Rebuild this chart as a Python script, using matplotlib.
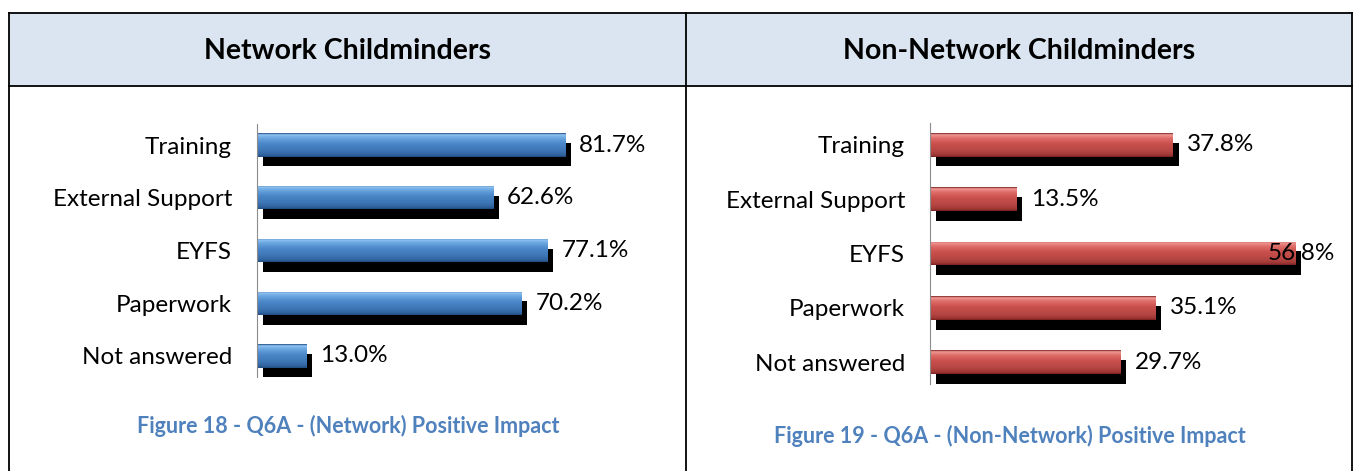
import numpy as np
import matplotlib.pyplot as plt
from matplotlib import patheffects as pe
from matplotlib.colors import LinearSegmentedColormap
from matplotlib.lines import Line2D
from matplotlib.patches import Rectangle

plt.rcParams['font.family'] = ['Lato', 'DejaVu Sans']

categories = ['Training', 'External Support', 'EYFS', 'Paperwork', 'Not answered']
network_pct = [81.7, 62.6, 77.1, 70.2, 13.0]
non_network_pct = [37.8, 13.5, 56.8, 35.1, 29.7]

titles = ['Network Childminders', 'Non-Network Childminders']
captions = ['Figure 18 - Q6A - (Network) Positive Impact',
            'Figure 19 - Q6A - (Non-Network) Positive Impact']

W, H = 1354, 471
fig = plt.figure(figsize=(W / 100, H / 100), dpi=100)


def fx(px):
    return px / W


def fy(py):
    return 1 - py / H


# table frame
fig.add_artist(Rectangle((fx(9), fy(86)), fx(1352 - 9), fy(13) - fy(86),
                         transform=fig.transFigure, facecolor='#dbe5f1',
                         edgecolor='none', zorder=0))
line_kw = dict(transform=fig.transFigure, color='black', lw=1.3)
fig.add_artist(Line2D([fx(9), fx(1352)], [fy(13), fy(13)], **line_kw))
fig.add_artist(Line2D([fx(9), fx(1352)], [fy(86), fy(86)], **line_kw))
for x in (9, 686, 1352):
    fig.add_artist(Line2D([fx(x), fx(x)], [fy(13), fy(471)], **line_kw))

fig.text(fx(348), fy(51), titles[0], ha='center', va='center',
         fontsize=20.5, fontweight='bold')
fig.text(fx(1019), fy(51), titles[1], ha='center', va='center',
         fontsize=20.5, fontweight='bold')
fig.text(fx(348), fy(426), captions[0], ha='center', va='center',
         fontsize=15.5, fontweight='bold', color='#4f81bd')
fig.text(fx(1010), fy(436), captions[1], ha='center', va='center',
         fontsize=15.5, fontweight='bold', color='#4f81bd')

grad = np.linspace(0, 1, 64).reshape(-1, 1)


def bar_panel(rect, values, xmax, shades):
    ax = fig.add_axes(rect)
    y = list(range(len(categories)))
    h = 0.44
    cmap = LinearSegmentedColormap.from_list('bevel', list(zip(
        [0, 0.06, 0.2, 0.45, 0.75, 0.93, 1], shades)))
    base = ax.barh(y, values, height=h, color=shades[-1], zorder=2)
    for b, yi, v in zip(base, y, values):
        b.set_path_effects([pe.SimplePatchShadow(offset=(4, -7), shadow_rgbFace='black',
                                                 alpha=1.0), pe.Normal()])
        im = ax.imshow(grad, extent=[0, v, yi + h / 2, yi - h / 2], cmap=cmap,
                       aspect='auto', interpolation='bilinear', zorder=3,
                       origin='upper')
        im.set_clip_path(b)
    for yi, v in zip(y, values):
        if v + xmax * 0.12 > xmax:
            ax.text(xmax, yi, f'{v:.1f}%', ha='right', va='center', fontsize=17.5,
                    zorder=6)
        else:
            ax.annotate(f'{v:.1f}%', (v, yi), xytext=(10, 0), textcoords='offset points',
                        ha='left', va='center', fontsize=17.5, zorder=6)
    ax.set_xlim(0, xmax)
    ax.set_ylim(len(categories) - 0.6, -0.4)
    ax.set_yticks(y)
    ax.set_yticklabels(categories, fontsize=17.5)
    ax.set_xticks([])
    ax.tick_params(axis='y', length=0, pad=18)
    for s in ('top', 'right', 'bottom'):
        ax.spines[s].set_visible(False)
    ax.spines['left'].set_color('#8c8c8c')
    ax.spines['left'].set_zorder(5)
    ax.patch.set_alpha(0)
    return ax


# left: axis at x=257, 3.77 px per %, rows 145..356
bar_panel([fx(257), fy(377), fx(377), fy(124) - fy(377)], network_pct, 100,
          ['#1f4a7e', '#8fc3f2', '#6aa6e0', '#4a86c8', '#3d75b4', '#2f629e', '#1f4a7e'])
# right: axis at x=930, 6.43 px per %, rows 145..362
bar_panel([fx(930), fy(384), fx(405), fy(123) - fy(384)], non_network_pct, 63,
          ['#7a1f1d', '#f09a96', '#e06e6a', '#c9504c', '#b64643', '#9d3835', '#7a1f1d'])

fig.savefig('out.png', dpi=100)
